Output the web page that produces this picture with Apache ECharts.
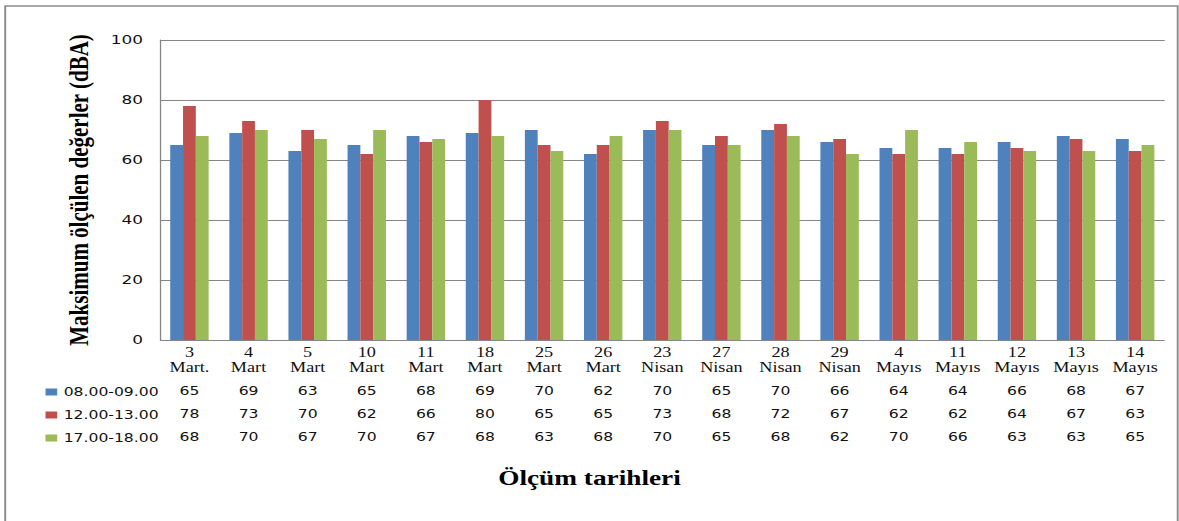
<!DOCTYPE html>
<html>
<head>
<meta charset="utf-8">
<script src="https://cdn.jsdelivr.net/npm/echarts@6.0.0/dist/echarts.min.js"></script>
<style>
  html, body { margin: 0; padding: 0; overflow: hidden; background: #fff; }
  /* the chart is laid out in a narrower box and widened horizontally */
  #wrap { width: 907px; height: 521px; transform: scaleX(1.29989); transform-origin: 0 0; }
</style>
</head>
<body>
<div id="wrap"></div>
<script>
// Measurement dates (day / month)
const days = ['3', '4', '5', '10', '11', '18', '25', '26', '23', '27', '28', '29', '4', '11', '12', '13', '14'];
const months = ['Mart.', 'Mart', 'Mart', 'Mart', 'Mart', 'Mart', 'Mart', 'Mart', 'Nisan', 'Nisan', 'Nisan', 'Nisan', 'Mayıs', 'Mayıs', 'Mayıs', 'Mayıs', 'Mayıs'];

// Maximum measured levels (dBA) per time window
const seriesNames = ['08.00-09.00', '12.00-13.00', '17.00-18.00'];
const morning = [65, 69, 63, 65, 68, 69, 70, 62, 70, 65, 70, 66, 64, 64, 66, 68, 67];
const noon    = [78, 73, 70, 62, 66, 80, 65, 65, 73, 68, 72, 67, 62, 62, 64, 67, 63];
const evening = [68, 70, 67, 70, 67, 68, 63, 68, 70, 65, 68, 62, 70, 66, 63, 63, 65];

// Value axis ticks
const yMin = 0, yMax = 100, yStep = 20;

const colors = ['#4F81BD', '#C0504D', '#9BBB59'];
const categories = days.map((d, i) => d + ' ' + months[i]);
const values = [morning, noon, evening];

const chart = echarts.init(document.getElementById('wrap'), null, { renderer: 'svg' });

chart.setOption({
  animation: false,
  color: colors,
  title: {
    text: 'Ölçüm tarihleri',
    left: 'center',
    top: 462,
    textStyle: { fontFamily: 'Liberation Serif', fontWeight: 'bold', fontSize: 21, color: '#000' }
  },
  legend: {
    orient: 'vertical',
    left: 30,
    top: 380,
    itemWidth: 9,
    itemHeight: 7,
    itemGap: 9,
    icon: 'rect',
    data: seriesNames,
    textStyle: { fontFamily: 'DejaVu Sans', fontSize: 12, lineHeight: 14, color: '#111' }
  },
  grid: { left: 123, right: 11, top: 40, bottom: 181, containLabel: false },
  xAxis: {
    type: 'category',
    data: categories,
    axisLine: { show: false },
    axisTick: { show: false },
    axisLabel: {
      interval: 0,
      margin: 5,
      color: '#111',
      formatter: (v, i) =>
        '{d|' + days[i] + '}\n{d|' + months[i] + '}\n{s| }\n' +
        values.map(arr => '{v|' + arr[i] + '}').join('\n'),
      rich: {
        d: { fontFamily: 'Liberation Serif', fontSize: 14, lineHeight: 15, color: '#111', align: 'center' },
        s: { fontSize: 1, lineHeight: 4 },
        v: { fontFamily: 'DejaVu Sans', fontSize: 12, lineHeight: 23, color: '#111', align: 'center' }
      }
    }
  },
  yAxis: {
    type: 'value',
    min: yMin,
    max: yMax,
    interval: yStep,
    name: 'Maksimum ölçülen değerler (dBA)',
    nameLocation: 'middle',
    nameRotate: 90,
    nameGap: 52,
    nameTextStyle: { fontFamily: 'Liberation Serif', fontWeight: 'bold', fontSize: 21, color: '#000' },
    axisLine: { show: true, lineStyle: { color: '#868686', width: 1 } },
    axisTick: { show: false },
    axisLabel: { margin: 13, fontFamily: 'DejaVu Sans', fontSize: 13, color: '#111' },
    splitLine: { lineStyle: { color: '#868686', width: 1 } }
  },
  series: seriesNames.map((name, k) => ({
    name,
    type: 'bar',
    data: values[k],
    barGap: '0%',
    barCategoryGap: '35%'
  })),
  graphic: [{
    type: 'rect',
    silent: true,
    shape: { x: 4, y: 6, width: 902, height: 530 },
    style: { fill: 'none', stroke: '#8c8c8c', lineWidth: 1.5 }
  }]
});
</script>
</body>
</html>
